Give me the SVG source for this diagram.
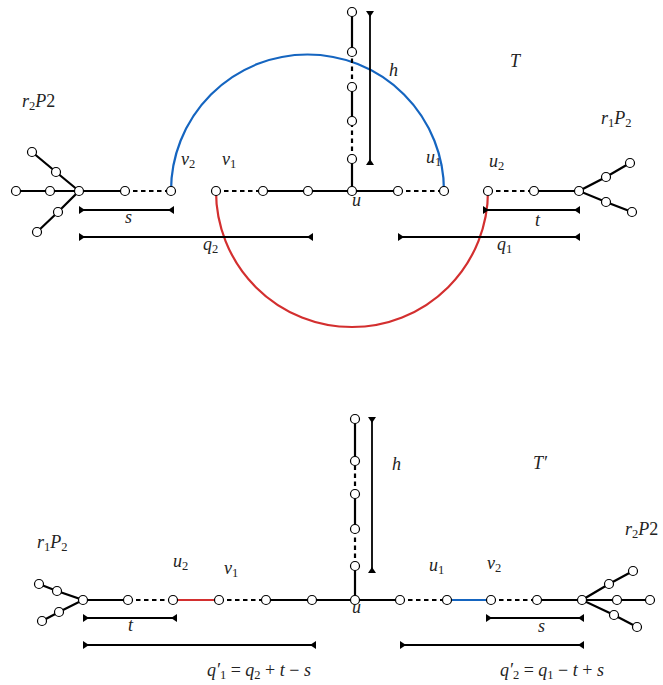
<svg xmlns="http://www.w3.org/2000/svg" width="663" height="685" viewBox="0 0 663 685">
<defs>
<marker id="tri" markerUnits="userSpaceOnUse" markerWidth="12" markerHeight="12" refX="0" refY="0" viewBox="-7 -6 12 12" orient="auto-start-reverse" overflow="visible">
<path d="M0,-4 L0,4 L-6,0 z" fill="#000"/>
</marker>
</defs>
<style>
.e{stroke:#000;stroke-width:2.2;fill:none}
.d{stroke:#000;stroke-width:2.2;fill:none;stroke-dasharray:4.5,3.5}
.br{stroke:#000;stroke-width:1.8;fill:none;marker-start:url(#tri);marker-end:url(#tri)}
.blue{stroke:#1565c0;stroke-width:2.2;fill:none}
.red{stroke:#d32f2f;stroke-width:2.2;fill:none}
.n{fill:#fff;stroke:#000;stroke-width:1.2}
.lab{font-family:"Liberation Serif","Times New Roman",serif;font-style:italic;font-size:18px;fill:#222}
.sb{font-size:12.5px;font-style:normal}
.up{font-style:normal}
</style>
<g id="connectors">
<path class="blue" d="M171,191 A136.5,136.5 0 0 1 444,191"/>
<path class="red" d="M216,191 A136,136 0 0 0 488,191"/>
<line class="e" x1="16" y1="191" x2="125" y2="191"/>
<line class="d" x1="125" y1="191" x2="171" y2="191"/>
<polyline class="e" points="32,152 56,172 79,191 58,212 37,232"/>
<line class="d" x1="216" y1="191" x2="263" y2="191"/>
<line class="e" x1="263" y1="191" x2="398" y2="191"/>
<line class="d" x1="398" y1="191" x2="444" y2="191"/>
<line class="e" x1="352" y1="191" x2="352" y2="159"/>
<line class="d" x1="352" y1="159" x2="352" y2="121"/>
<line class="e" x1="352" y1="121" x2="352" y2="87"/>
<line class="d" x1="352" y1="87" x2="352" y2="52"/>
<line class="e" x1="352" y1="52" x2="352" y2="12"/>
<line class="d" x1="488" y1="191" x2="534" y2="191"/>
<line class="e" x1="534" y1="191" x2="579" y2="191"/>
<polyline class="e" points="630,163 606,177 579,191 606,202 632,212"/>
<line class="br" x1="370" y1="11" x2="370" y2="165"/>
<line class="br" x1="79" y1="210" x2="174" y2="210"/>
<line class="br" x1="79" y1="237" x2="313" y2="237"/>
<line class="br" x1="483" y1="210" x2="580" y2="210"/>
<line class="br" x1="398" y1="237" x2="580" y2="237"/>
<polyline class="e" points="39,584 57,591 83,600 59,612 42,621"/>
<line class="e" x1="83" y1="600" x2="128" y2="600"/>
<line class="d" x1="128" y1="600" x2="173" y2="600"/>
<line class="red" x1="173" y1="600" x2="219" y2="600"/>
<line class="d" x1="219" y1="600" x2="266" y2="600"/>
<line class="e" x1="266" y1="600" x2="400" y2="600"/>
<line class="d" x1="400" y1="600" x2="447" y2="600"/>
<line class="blue" x1="447" y1="600" x2="491" y2="600"/>
<line class="d" x1="491" y1="600" x2="537" y2="600"/>
<line class="e" x1="537" y1="600" x2="582" y2="600"/>
<polyline class="e" points="633,571 609,584 582,600 614,615 637,627"/>
<line class="e" x1="582" y1="600" x2="650" y2="600"/>
<line class="e" x1="355" y1="600" x2="355" y2="566"/>
<line class="d" x1="355" y1="566" x2="355" y2="529"/>
<line class="e" x1="355" y1="529" x2="355" y2="494"/>
<line class="d" x1="355" y1="494" x2="355" y2="461"/>
<line class="e" x1="355" y1="461" x2="355" y2="419"/>
<line class="br" x1="372" y1="417" x2="372" y2="573"/>
<line class="br" x1="83" y1="618" x2="177" y2="618"/>
<line class="br" x1="486" y1="618" x2="584" y2="618"/>
<line class="br" x1="83" y1="645" x2="316" y2="645"/>
<line class="br" x1="400" y1="645" x2="584" y2="645"/>
</g>
<g id="nodes-top">
<circle class="n" cx="16" cy="191" r="4.5"/>
<circle class="n" cx="50" cy="191" r="4.5"/>
<circle class="n" cx="79" cy="191" r="4.5"/>
<circle class="n" cx="125" cy="191" r="4.5"/>
<circle class="n" cx="171" cy="191" r="4.5"/>
<circle class="n" cx="32" cy="152" r="4.5"/>
<circle class="n" cx="56" cy="172" r="4.5"/>
<circle class="n" cx="58" cy="212" r="4.5"/>
<circle class="n" cx="37" cy="232" r="4.5"/>
<circle class="n" cx="216" cy="191" r="4.5"/>
<circle class="n" cx="263" cy="191" r="4.5"/>
<circle class="n" cx="308" cy="191" r="4.5"/>
<circle class="n" cx="352" cy="191" r="4.5"/>
<circle class="n" cx="398" cy="191" r="4.5"/>
<circle class="n" cx="444" cy="191" r="4.5"/>
<circle class="n" cx="352" cy="159" r="4.5"/>
<circle class="n" cx="352" cy="121" r="4.5"/>
<circle class="n" cx="352" cy="87" r="4.5"/>
<circle class="n" cx="352" cy="52" r="4.5"/>
<circle class="n" cx="352" cy="12" r="4.5"/>
<circle class="n" cx="488" cy="191" r="4.5"/>
<circle class="n" cx="534" cy="191" r="4.5"/>
<circle class="n" cx="579" cy="191" r="4.5"/>
<circle class="n" cx="606" cy="177" r="4.5"/>
<circle class="n" cx="630" cy="163" r="4.5"/>
<circle class="n" cx="606" cy="202" r="4.5"/>
<circle class="n" cx="632" cy="212" r="4.5"/>
</g>
<g id="nodes-bottom">
<circle class="n" cx="39" cy="584" r="4.5"/>
<circle class="n" cx="57" cy="591" r="4.5"/>
<circle class="n" cx="83" cy="600" r="4.5"/>
<circle class="n" cx="59" cy="612" r="4.5"/>
<circle class="n" cx="42" cy="621" r="4.5"/>
<circle class="n" cx="128" cy="600" r="4.5"/>
<circle class="n" cx="173" cy="600" r="4.5"/>
<circle class="n" cx="219" cy="600" r="4.5"/>
<circle class="n" cx="266" cy="600" r="4.5"/>
<circle class="n" cx="312" cy="600" r="4.5"/>
<circle class="n" cx="355" cy="600" r="4.5"/>
<circle class="n" cx="400" cy="600" r="4.5"/>
<circle class="n" cx="447" cy="600" r="4.5"/>
<circle class="n" cx="491" cy="600" r="4.5"/>
<circle class="n" cx="537" cy="600" r="4.5"/>
<circle class="n" cx="582" cy="600" r="4.5"/>
<circle class="n" cx="609" cy="584" r="4.5"/>
<circle class="n" cx="633" cy="571" r="4.5"/>
<circle class="n" cx="617" cy="600" r="4.5"/>
<circle class="n" cx="650" cy="600" r="4.5"/>
<circle class="n" cx="614" cy="615" r="4.5"/>
<circle class="n" cx="637" cy="627" r="4.5"/>
<circle class="n" cx="355" cy="566" r="4.5"/>
<circle class="n" cx="355" cy="529" r="4.5"/>
<circle class="n" cx="355" cy="494" r="4.5"/>
<circle class="n" cx="355" cy="461" r="4.5"/>
<circle class="n" cx="355" cy="419" r="4.5"/>
</g>
<g id="labels-top" class="lab">
<text x="22" y="107">r<tspan class="sb" dy="3">2</tspan><tspan dy="-3">P</tspan><tspan class="up">2</tspan></text>
<text x="601" y="124">r<tspan class="sb" dy="3">1</tspan><tspan dy="-3">P</tspan><tspan class="sb" dy="3">2</tspan></text>
<text x="510" y="67">T</text>
<text x="389" y="76">h</text>
<text x="181" y="165">v<tspan class="sb" dy="3">2</tspan></text>
<text x="222" y="165">v<tspan class="sb" dy="3">1</tspan></text>
<text x="426" y="163">u<tspan class="sb" dy="3">1</tspan></text>
<text x="489" y="167">u<tspan class="sb" dy="3">2</tspan></text>
<text x="352" y="206">u</text>
<text x="125" y="223">s</text>
<text x="203" y="250">q<tspan class="sb" dy="3">2</tspan></text>
<text x="535" y="226">t</text>
<text x="497" y="250">q<tspan class="sb" dy="3">1</tspan></text>
</g>
<g id="labels-bottom" class="lab">
<text x="392" y="470">h</text>
<text x="533" y="469">T′</text>
<text x="37" y="548">r<tspan class="sb" dy="3">1</tspan><tspan dy="-3">P</tspan><tspan class="sb" dy="3">2</tspan></text>
<text x="625" y="535">r<tspan class="sb" dy="3">2</tspan><tspan dy="-3">P</tspan><tspan class="up">2</tspan></text>
<text x="173" y="567">u<tspan class="sb" dy="3">2</tspan></text>
<text x="224" y="574">v<tspan class="sb" dy="3">1</tspan></text>
<text x="429" y="571">u<tspan class="sb" dy="3">1</tspan></text>
<text x="487" y="569">v<tspan class="sb" dy="3">2</tspan></text>
<text x="352" y="613">u</text>
<text x="128" y="631">t</text>
<text x="538" y="632">s</text>
<text x="207" y="676">q′<tspan class="sb" dy="3">1</tspan><tspan class="up" dy="-3"> = </tspan>q<tspan class="sb" dy="3">2</tspan><tspan class="up" dy="-3"> + </tspan>t<tspan class="up"> − </tspan>s</text>
<text x="500" y="676">q′<tspan class="sb" dy="3">2</tspan><tspan class="up" dy="-3"> = </tspan>q<tspan class="sb" dy="3">1</tspan><tspan class="up" dy="-3"> − </tspan>t<tspan class="up"> + </tspan>s</text>
</g>
</svg>
